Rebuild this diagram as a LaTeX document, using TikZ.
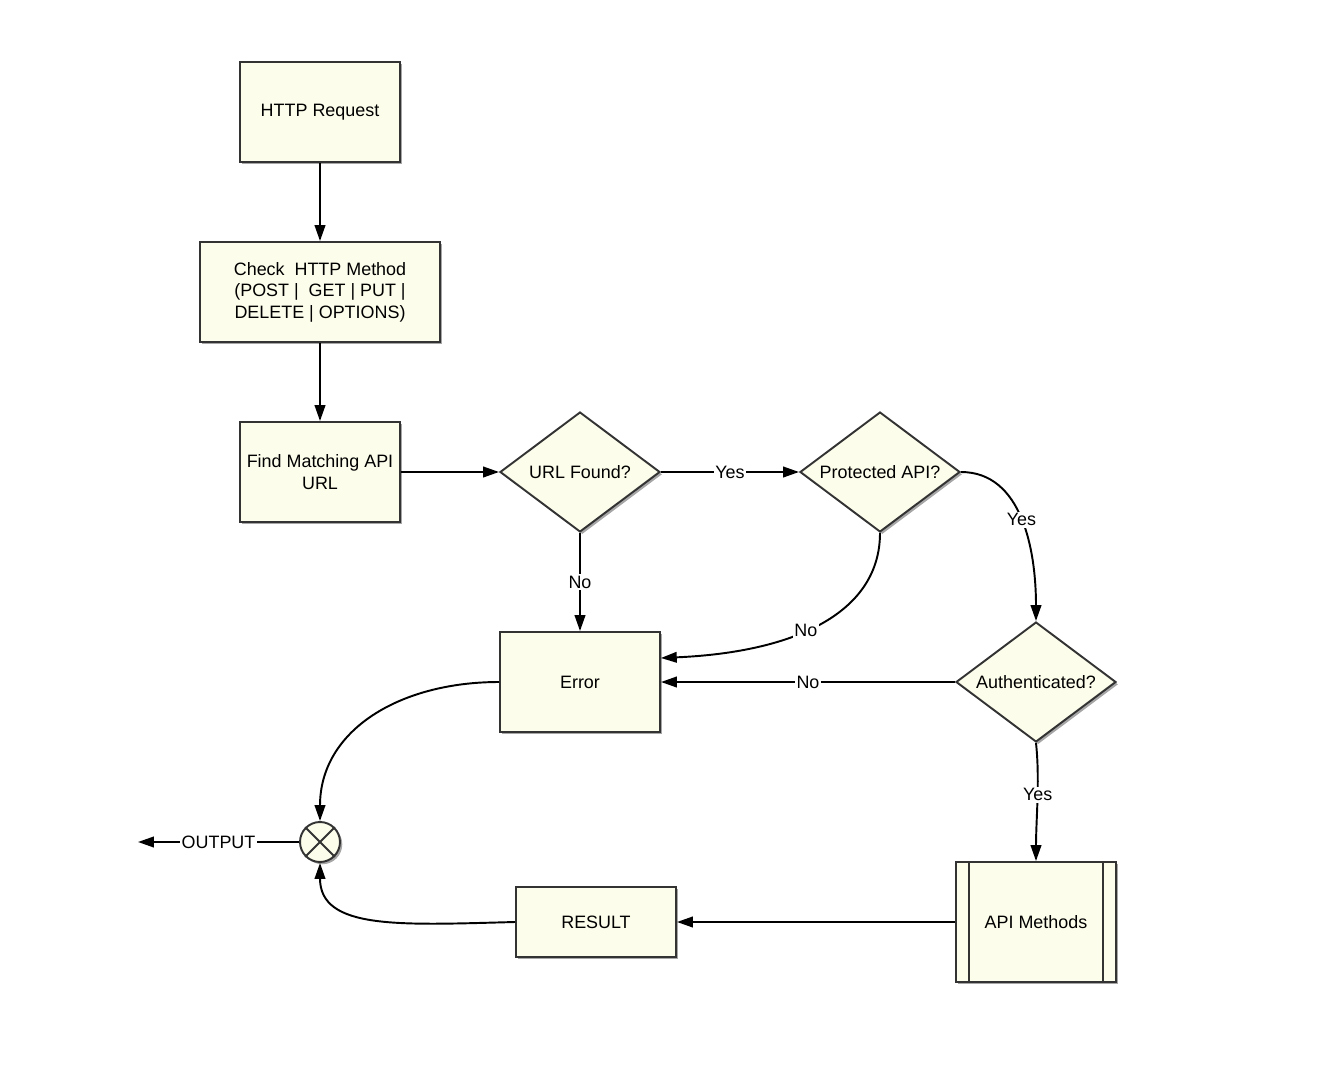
\documentclass[tikz,border=0pt]{standalone}
\usepackage{fontspec}
\setmainfont{Liberation Sans}
\usetikzlibrary{shapes.geometric,arrows.meta,shadows}
\definecolor{boxfill}{HTML}{FDFDEC}
\definecolor{boxline}{HTML}{333333}
\begin{document}
\begin{tikzpicture}[x=0.02cm,y=-0.02cm,
  font=\fontsize{10.2}{12.2}\selectfont,
  shad/.style={drop shadow={shadow xshift=1.3pt,shadow yshift=-1.3pt,opacity=0.35,fill=black}},
  procbox/.style={draw=boxline,fill=boxfill,line width=1.1pt,shad,align=center,inner sep=2pt},
  decision/.style={diamond,draw=boxline,fill=boxfill,line width=1.1pt,shad,inner sep=0pt,aspect=1.33,minimum width=3.2cm,minimum height=2.4cm,align=center},
  conn/.style={line width=1.1pt,-{Triangle[length=9pt,width=6pt]}},
  lbl/.style={fill=white,inner sep=1pt}
]
\useasboundingbox (0,0) rectangle (1323,1065);

\node[procbox,minimum width=3.2cm,minimum height=2cm] (req) at (320,112) {HTTP Request};
\node[procbox,minimum width=4.8cm,minimum height=2cm] (check) at (320,292) {Check\ \ HTTP Method\\(POST |\ \ GET | PUT |\\DELETE | OPTIONS)};
\node[procbox,minimum width=3.2cm,minimum height=2cm] (find) at (320,472) {Find Matching API\\URL};
\node[decision] (url) at (580,472) {URL Found?};
\node[decision] (prot) at (880,472) {Protected API?};
\node[procbox,minimum width=3.2cm,minimum height=2cm] (err) at (580,682) {Error};
\node[decision] (auth) at (1036,682) {Authenticated?};
\node[procbox,minimum width=3.2cm,minimum height=2.4cm] (api) at (1036,922) {API Methods};
\node[procbox,minimum width=3.2cm,minimum height=1.4cm] (res) at (596,922) {RESULT};
\node[circle,draw=boxline,fill=boxfill,line width=1.1pt,shad,minimum size=0.8cm,inner sep=0pt] (sum) at (320,842) {};
\coordinate (out) at (138,842);

\draw[boxline,line width=1.1pt] ([xshift=0.28cm]api.north west) -- ([xshift=0.28cm]api.south west);
\draw[boxline,line width=1.1pt] ([xshift=-0.28cm]api.north east) -- ([xshift=-0.28cm]api.south east);
\draw[boxline,line width=1.1pt] (sum.45) -- (sum.225) (sum.135) -- (sum.315);

\draw[conn] (req.south) -- (check.north);
\draw[conn] (check.south) -- (find.north);
\draw[conn] (find.east) -- (url.west);
\draw[conn] (url.east) -- node[lbl] {Yes} (prot.west);
\draw[conn] (url.south) -- node[lbl] {No} (err.north);
\draw[conn] (prot.south) .. controls (880,610) and (800,652) .. node[lbl,pos=0.57] {No} ([yshift=0.48cm]err.east);
\draw[conn] (prot.east) .. controls (1022,472) and (1036,550) .. node[lbl,pos=0.5] {Yes} (auth.north);
\draw[conn] (auth.west) -- node[lbl,pos=0.5] {No} (err.east);
\draw[conn] (auth.south) .. controls (1040,780) and (1036,820) .. node[lbl,pos=0.45] {Yes} (api.north);
\draw[conn] (api.west) -- (res.east);
\draw[conn] (res.west) .. controls (400,925) and (320,930) .. (sum.south);
\draw[conn] (err.west) .. controls (400,682) and (320,730) .. (sum.north);
\draw[conn] (sum.west) -- node[lbl] {OUTPUT} (out);
\end{tikzpicture}
\end{document}
